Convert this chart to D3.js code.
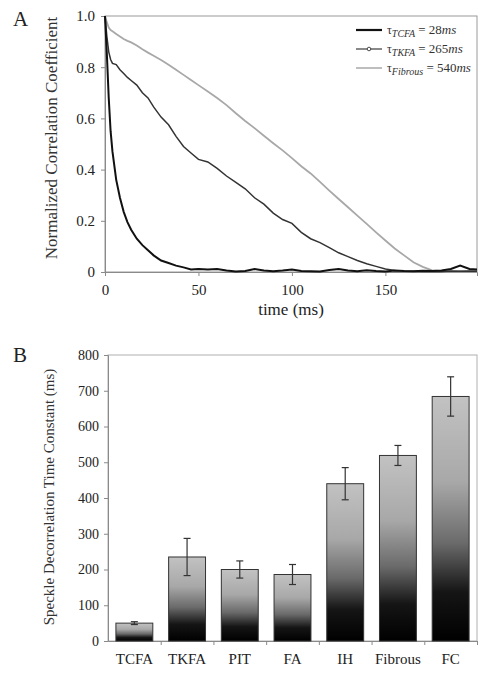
<!DOCTYPE html>
<html>
<head>
<meta charset="utf-8">
<script src="https://cdn.jsdelivr.net/npm/d3@7"></script>
<style>
  body { margin: 0; background: #fff; }
  svg { display: block; font-family: "Liberation Serif", "Times New Roman", serif; }
</style>
</head>
<body>
<svg id="chart" width="494" height="675"></svg>
<script>
// ---------- Panel A data ----------
const timeMs = [0,1,2,3,4,6,8,10,12,14,17,20,23,26,30,34,38,42,46,50,55,60,65,70,75,80,85,90,95,100,105,110,115,120,125,130,135,140,145,150,155,160,165,170,175,180,185,190,195,199];
const tcfaCorr = [1.0,0.85,0.68,0.55,0.47,0.36,0.29,0.235,0.195,0.165,0.13,0.105,0.085,0.065,0.045,0.035,0.025,0.018,0.01,0.012,0.01,0.012,0.006,0.002,0.004,0.012,0.006,0.003,0.006,0.01,0.004,0.003,0.002,0.008,0.012,0.006,0.003,0.007,0.004,0.002,0.006,0.004,0.003,0.005,0.004,0.006,0.012,0.025,0.012,0.01];
const tkfaCorr = [1.0,0.92,0.86,0.83,0.815,0.81,0.79,0.775,0.76,0.748,0.73,0.70,0.68,0.645,0.605,0.575,0.53,0.49,0.465,0.44,0.43,0.405,0.375,0.35,0.325,0.29,0.265,0.23,0.205,0.19,0.155,0.13,0.115,0.095,0.075,0.06,0.045,0.032,0.022,0.012,0.006,0.004,0.003,0.002,0.003,0.002,0.004,0.003,0.004,0.003];
const fibrousCorr = [1.0,0.975,0.955,0.945,0.94,0.93,0.92,0.91,0.903,0.897,0.885,0.87,0.857,0.845,0.828,0.81,0.79,0.77,0.75,0.73,0.705,0.68,0.652,0.62,0.59,0.562,0.532,0.503,0.475,0.445,0.413,0.385,0.352,0.318,0.285,0.253,0.22,0.188,0.155,0.123,0.092,0.065,0.038,0.02,0.006,0.003,0.002,0.003,0.002,0.002];
const xTicksA = [0,50,100,150];
const yTicksA = [0,0.2,0.4,0.6,0.8,1.0];
const yTickLabelsA = ["0","0.2","0.4","0.6","0.8","1.0"];
const legendSub = ["TCFA","TKFA","Fibrous"];
const legendVal = ["28","265","540"];

// ---------- Panel B data ----------
const categories = ["TCFA","TKFA","PIT","FA","IH","Fibrous","FC"];
const tauMean = [50,235,200,186,440,519,684];
const tauErr = [4,52,24,28,45,28,55];
const yTicksB = [0,100,200,300,400,500,600,700,800];

const svg = d3.select("#chart");

// ================= Panel A =================
const A = {left:105, right:477, top:16, bottom:272};
const xA = d3.scaleLinear().domain([0,199]).range([A.left, A.right]);
const yA = d3.scaleLinear().domain([0,1]).range([A.bottom, A.top]);
const gA = svg.append("g");

gA.append("rect").attr("x",A.left).attr("y",A.top).attr("width",A.right-A.left).attr("height",A.bottom-A.top)
  .attr("fill","none").attr("stroke","#9a9a9a").attr("stroke-width",1);

const axA_x = gA.append("g").attr("transform",`translate(0,${A.bottom})`)
  .call(d3.axisBottom(xA).tickValues(xTicksA).tickSize(4).tickPadding(8).tickFormat(d3.format("d")));
const axA_y = gA.append("g").attr("transform",`translate(${A.left},0)`)
  .call(d3.axisLeft(yA).tickValues(yTicksA).tickSize(4).tickPadding(6).tickFormat((d,i)=>yTickLabelsA[i]));
[axA_x, axA_y].forEach(ax=>{
  ax.select(".domain").attr("stroke","#8a8a8a");
  ax.selectAll(".tick line").attr("stroke","#8a8a8a");
  ax.selectAll("text").attr("font-family","Liberation Serif").attr("font-size",15).attr("fill","#222");
});

const lineA = vals => d3.line().x((d,i)=>xA(timeMs[i])).y(d=>yA(d))(vals);
gA.append("path").attr("d",lineA(fibrousCorr)).attr("fill","none").attr("stroke","#a8a8a8").attr("stroke-width",1.8);
gA.append("path").attr("d",lineA(tkfaCorr)).attr("fill","none").attr("stroke","#333").attr("stroke-width",1.5);
gA.append("path").attr("d",lineA(tcfaCorr)).attr("fill","none").attr("stroke","#111").attr("stroke-width",2);

gA.append("text").attr("x",13).attr("y",26).attr("font-size",21).attr("fill","#222").text("A");
gA.append("text").attr("transform",`translate(57,${(A.top+A.bottom)/2-6}) rotate(-90)`)
  .attr("text-anchor","middle").attr("font-size",17).attr("fill","#333").text("Normalized Correlation Coefficient");
gA.append("text").attr("x",(A.left+A.right)/2).attr("y",315).attr("text-anchor","middle")
  .attr("font-size",17).attr("fill","#222").text("time (ms)");

const legColors = ["#111","#3a3a3a","#a8a8a8"];
const legWidths = [2.2,1.2,1.5];
legendSub.forEach((s,i)=>{
  const y = 30 + i*19;
  gA.append("line").attr("x1",356).attr("x2",382).attr("y1",y).attr("y2",y)
    .attr("stroke",legColors[i]).attr("stroke-width",legWidths[i]);
  if(i===1) gA.append("circle").attr("cx",369).attr("cy",y).attr("r",1.8).attr("fill","#fff").attr("stroke","#3a3a3a").attr("stroke-width",0.9);
  const t = gA.append("text").attr("x",387).attr("y",y+4).attr("font-size",13).attr("fill","#333");
  t.append("tspan").attr("font-size",12).text("τ");
  t.append("tspan").attr("font-style","italic").attr("font-size",10).attr("dy",3).text(s);
  t.append("tspan").attr("dy",-3).text(" = " + legendVal[i]);
  t.append("tspan").attr("font-style","italic").text("ms");
});

// ================= Panel B =================
const B = {left:108, right:477, top:355, bottom:641};
const xB = d3.scaleBand().domain(categories).range([B.left, B.right]).paddingInner(0.3).paddingOuter(0.15);
const yB = d3.scaleLinear().domain([0,800]).range([B.bottom, B.top]);
const gB = svg.append("g");

const defs = svg.append("defs");
const grad = defs.append("linearGradient").attr("id","barGrad").attr("x1",0).attr("y1",0).attr("x2",0).attr("y2",1);
[[0,"#c2c2c2"],[0.35,"#a8a8a8"],[0.6,"#6a6a6a"],[0.8,"#151515"],[1,"#000"]].forEach(([o,c])=>
  grad.append("stop").attr("offset",o).attr("stop-color",c));

gB.append("rect").attr("x",B.left).attr("y",B.top).attr("width",B.right-B.left).attr("height",B.bottom-B.top)
  .attr("fill","none").attr("stroke","#b0b0b0").attr("stroke-width",1);

const xBoundary = d3.scaleLinear().domain([0,categories.length]).range([B.left,B.right]);
const axB_x = gB.append("g").attr("transform",`translate(0,${B.bottom})`)
  .call(d3.axisBottom(xB).tickSize(0).tickPadding(12));
axB_x.select(".domain").attr("stroke","#8a8a8a");
axB_x.selectAll("text").attr("font-family","Liberation Serif").attr("font-size",15).attr("fill","#222");
gB.append("g").attr("transform",`translate(0,${B.bottom})`)
  .call(d3.axisBottom(xBoundary).tickValues(d3.range(1,categories.length+1)).tickSize(4).tickFormat(""))
  .call(g=>{g.select(".domain").remove(); g.selectAll("line").attr("stroke","#8a8a8a");});

const axB_y = gB.append("g").attr("transform",`translate(${B.left},0)`)
  .call(d3.axisLeft(yB).tickValues(yTicksB).tickSize(4).tickPadding(5).tickFormat(d3.format("d")));
axB_y.select(".domain").attr("stroke","#8a8a8a");
axB_y.selectAll(".tick line").attr("stroke","#8a8a8a");
axB_y.selectAll("text").attr("font-family","Liberation Serif").attr("font-size",14).attr("fill","#222");

gB.selectAll("rect.bar").data(categories).join("rect").attr("class","bar")
  .attr("x",d=>xB(d)).attr("width",xB.bandwidth())
  .attr("y",(d,i)=>yB(tauMean[i])).attr("height",(d,i)=>yB(0)-yB(tauMean[i]))
  .attr("fill","url(#barGrad)").attr("stroke","#333").attr("stroke-width",1);

const eb = gB.selectAll("g.err").data(categories).join("g").attr("class","err").attr("stroke","#333").attr("stroke-width",1.2);
eb.append("line").attr("x1",d=>xB(d)+xB.bandwidth()/2).attr("x2",d=>xB(d)+xB.bandwidth()/2)
  .attr("y1",(d,i)=>yB(tauMean[i]+tauErr[i])).attr("y2",(d,i)=>yB(tauMean[i]-tauErr[i]));
[1,-1].forEach(s=>{
  eb.append("line").attr("x1",d=>xB(d)+xB.bandwidth()/2-3.5).attr("x2",d=>xB(d)+xB.bandwidth()/2+3.5)
    .attr("y1",(d,i)=>yB(tauMean[i]+s*tauErr[i])).attr("y2",(d,i)=>yB(tauMean[i]+s*tauErr[i]));
});

gB.append("text").attr("x",13).attr("y",362).attr("font-size",21).attr("fill","#222").text("B");
gB.append("text").attr("transform",`translate(54,${(B.top+B.bottom)/2-1}) rotate(-90)`)
  .attr("text-anchor","middle").attr("font-size",15).attr("fill","#333").text("Speckle Decorrelation Time Constant (ms)");
</script>
</body>
</html>
